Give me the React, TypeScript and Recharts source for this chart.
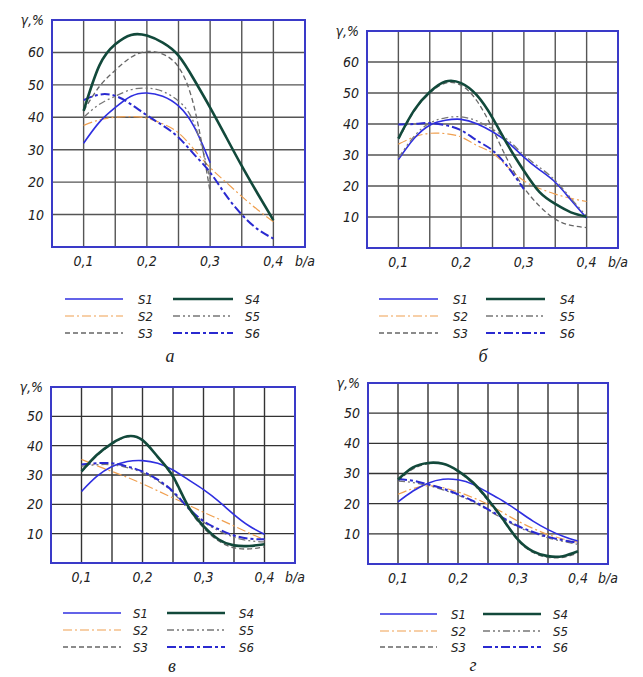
import { CartesianGrid, Line, LineChart, ReferenceArea, XAxis, YAxis } from 'recharts';

// b/a sample points shared by every panel
const B_A = [0.1, 0.125, 0.15, 0.175, 0.2, 0.225, 0.25, 0.275, 0.3, 0.325, 0.35, 0.375, 0.4];

const X_TICKS = [0.05, 0.1, 0.15, 0.2, 0.25, 0.3, 0.35, 0.4, 0.45];
const X_LABELS = ['', '0,1', '', '0,2', '', '0,3', '', '0,4', 'b/a'];
const Y_TICKS_70 = [0, 10, 20, 30, 40, 50, 60, 70];
const Y_TICKS_60 = [0, 10, 20, 30, 40, 50, 60];

const SERIES = ['S1', 'S2', 'S3', 'S4', 'S5', 'S6'];

// panel а
const A_S1 = [32, 38.5, 43, 46.5, 47.5, 46.5, 43.5, 37, 26, null, null, null, null];
const A_S2 = [37.5, 39.2, 40, 40.2, 39.7, 38, 35.2, 30, 24.5, 20, 15.6, 11.5, 7.8];
const A_S3 = [42, 49.5, 54.5, 58.5, 60.3, 59.5, 55.5, 43, 17, null, null, null, null];
const A_S4 = [42, 56, 62.5, 65.4, 65.2, 63, 59, 51.5, 43, 34, 25, 16.5, 8.3];
const A_S5 = [40, 44, 46.5, 48.5, 49, 48, 45, 38, 21, null, null, null, null];
const A_S6 = [45.3, 47, 46.6, 44, 40.6, 37.5, 33.8, 28.5, 23, 16, 10, 5.5, 2.6];

// panel б
const B_S1 = [28.5, 35.3, 39.6, 41.2, 41.5, 40.1, 37.5, 34, 29.3, 25.2, 21.2, 15.5, 9.7];
const B_S2 = [33.5, 35.8, 37, 36.9, 35.8, 33.1, 30.6, 26, 21.7, 19.2, 17.4, 16, 15];
const B_S3 = [35, 44, 50, 53.2, 52.5, 47.5, 38.5, 28, 19.5, 13.5, 9.3, 7.3, 6.6];
const B_S4 = [35.3, 44.4, 50.3, 53.7, 53.2, 49.3, 42, 33, 24.9, 18, 14.2, 11.5, 10.1];
const B_S5 = [29, 36, 40.3, 42, 42.3, 41, 38.3, 34.8, 30, 26, 21.8, 16, 10.3];
const B_S6 = [39.8, 40, 40.3, 39.6, 38, 34.7, 31.5, 26, 19, null, null, null, null];

// panel в
const V_S1 = [24.4, 29.5, 32.9, 34.6, 34.9, 34, 31.7, 28.4, 25, 21, 16.5, 12.6, 9.8];
const V_S2 = [35.3, 33.2, 31.2, 29.2, 27, 24.6, 22.2, 19.8, 17.3, 15, 12.6, 10.2, 7.9];
const V_S3 = [31, 36.5, 40.5, 43, 41.8, 36, 29, 19, 12, 7.5, 5.2, 4.8, 5.5];
const V_S4 = [31.2, 36.8, 40.8, 43.2, 41.9, 36.2, 29.5, 19.3, 12.6, 8, 6, 5.8, 6.4];
const V_S5 = [33, 33.5, 33.5, 32.5, 30.8, 28, 24, 18.5, 14, 11, 8.8, 7.6, 7.2];
const V_S6 = [33.6, 34, 34, 32.9, 31.2, 28.4, 24.4, 18.8, 14.3, 11.5, 9.4, 8.3, 8.1];

// panel г
const G_S1 = [20.6, 24.2, 26.8, 28.1, 27.9, 26.4, 23.7, 20.9, 17.6, 14.2, 11.4, 9.2, 7.6];
const G_S2 = [23.1, 25, 25.9, 25.3, 23.9, 22, 19.8, 17, 14.2, 11.8, 9.8, 8.3, 7.2];
const G_S3 = [27.5, 31.5, 33.2, 33.3, 30.6, 26.6, 21, 14.5, 7.8, 3.8, 2.2, 2.2, 3.6];
const G_S4 = [28, 32, 33.5, 33.2, 30.9, 27, 21.4, 14.8, 8.1, 4.2, 2.6, 2.6, 4.2];
const G_S5 = [27.5, 27, 26, 24.6, 22.8, 20.6, 17.8, 15, 12.3, 10.3, 8.7, 7.5, 6.5];
const G_S6 = [28.1, 27.6, 26.4, 25, 23.1, 20.9, 18.1, 15.3, 12.6, 10.6, 9, 7.9, 7];

type Val = number | null;

const toRows = (cols: Val[][]) =>
  B_A.map((x, i) => {
    const row: Record<string, Val> = { x };
    cols.forEach((c, k) => (row['s' + (k + 1)] = c[i]));
    return row;
  });

const STYLES: Record<string, { stroke: string; width: number; dash?: string }> = {
  s1: { stroke: '#2f2fe0', width: 1.6 },
  s2: { stroke: '#f0a050', width: 1.2, dash: '9 3 2 3' },
  s3: { stroke: '#666666', width: 1.3, dash: '5 3' },
  s4: { stroke: '#12493b', width: 2.6 },
  s5: { stroke: '#777777', width: 1.3, dash: '7 3 2 3 2 3' },
  s6: { stroke: '#2a2ad0', width: 2, dash: '9 3 3 3' },
};
const DRAW_ORDER = ['s2', 's1', 's5', 's3', 's6', 's4'];

const FONT = "'DejaVu Sans Condensed', 'DejaVu Sans', sans-serif";
const tickStyle = { fill: '#222', fontSize: 14, fontStyle: 'italic', fontFamily: FONT };
const FRAME = '#3a3ac8';

type Box = { l: number; t: number; r: number; b: number };

function Panel({ box, yTicks, rows, grid }: { box: Box; yTicks: number[]; rows: Record<string, Val>[]; grid: string }) {
  const yMax = yTicks[yTicks.length - 1];
  const w = box.r - box.l + 75;
  const h = box.b - box.t + 50;
  return (
    <div style={{ position: 'absolute', left: box.l - 45, top: box.t - 20 }}>
      <LineChart width={w} height={h} data={rows} margin={{ top: 20, right: 30, bottom: 0, left: 5 }}>
        <CartesianGrid stroke={grid} strokeWidth={1.4} />
        <XAxis
          type="number"
          dataKey="x"
          domain={[0.05, 0.45]}
          ticks={X_TICKS}
          interval={0}
          allowDataOverflow
          height={30}
          axisLine={false}
          tickLine={false}
          tickSize={0}
          tickMargin={9}
          tick={tickStyle}
          tickFormatter={(v: number) => X_LABELS[X_TICKS.findIndex((t) => Math.abs(t - v) < 1e-6)] ?? ''}
        />
        <YAxis
          type="number"
          domain={[0, yMax]}
          ticks={yTicks}
          interval={0}
          allowDataOverflow
          width={40}
          axisLine={false}
          tickLine={false}
          tickSize={0}
          tickMargin={8}
          tick={tickStyle}
          tickFormatter={(v: number) => (v === yMax ? 'γ,%' : v === 0 ? '' : String(v))}
        />
        <ReferenceArea x1={0.05} x2={0.45} y1={0} y2={yMax} fill="none" stroke={FRAME} strokeWidth={2} />
        {DRAW_ORDER.map((k) => (
          <Line
            key={k}
            type="natural"
            dataKey={k}
            stroke={STYLES[k].stroke}
            strokeWidth={STYLES[k].width}
            strokeDasharray={STYLES[k].dash}
            dot={false}
            activeDot={false}
            isAnimationActive={false}
          />
        ))}
      </LineChart>
    </div>
  );
}

type LegendSpec = { l1: [number, number]; t1: number; l2: [number, number]; t2: number; rows: number[]; cap: string; cx: number; cy: number };

const LEGENDS: LegendSpec[] = [
  { l1: [65, 123], t1: 138, l2: [173, 233], t2: 245, rows: [299, 316, 333], cap: 'а', cx: 170, cy: 356 },
  { l1: [379, 438], t1: 453, l2: [486, 545], t2: 560, rows: [299, 316, 333], cap: 'б', cx: 483, cy: 356 },
  { l1: [63, 121], t1: 133, l2: [167, 225], t2: 239, rows: [613, 630, 647], cap: 'в', cx: 172, cy: 666 },
  { l1: [380, 437], t1: 451, l2: [483, 541], t2: 553, rows: [614, 631, 647], cap: 'г', cx: 473, cy: 665 },
];

function Legends() {
  return (
    <svg width={643} height={677} style={{ position: 'absolute', left: 0, top: 0 }}>
      {LEGENDS.map((lg, i) => (
        <g key={i}>
          {SERIES.map((name, j) => {
            const col = j < 3 ? 0 : 1;
            const y = lg.rows[j % 3];
            const [a, b] = col === 0 ? lg.l1 : lg.l2;
            const tx = col === 0 ? lg.t1 : lg.t2;
            const st = STYLES['s' + (j + 1)];
            return (
              <g key={name}>
                <line x1={a} x2={b} y1={y} y2={y} stroke={st.stroke} strokeWidth={st.width} strokeDasharray={st.dash} />
                <text x={tx} y={y} dominantBaseline="central" fontSize={13} fontStyle="italic" fontFamily={FONT} fill="#222">
                  {name}
                </text>
              </g>
            );
          })}
          <text x={lg.cx} y={lg.cy} textAnchor="middle" dominantBaseline="central" fontSize={18} fontStyle="italic" fontFamily="'Liberation Serif', serif" fill="#222">
            {lg.cap}
          </text>
        </g>
      ))}
    </svg>
  );
}

export default function App() {
  return (
    <div style={{ position: 'absolute', left: 0, top: 0, width: 643, height: 677, background: '#fff' }}>
      <Legends />
      <Panel box={{ l: 52, t: 20, r: 305, b: 247 }} yTicks={Y_TICKS_70} grid="#555" rows={toRows([A_S1, A_S2, A_S3, A_S4, A_S5, A_S6])} />
      <Panel box={{ l: 367, t: 31, r: 618, b: 248 }} yTicks={Y_TICKS_70} grid="#555" rows={toRows([B_S1, B_S2, B_S3, B_S4, B_S5, B_S6])} />
      <Panel box={{ l: 51, t: 387, r: 295, b: 563 }} yTicks={Y_TICKS_60} grid="#333" rows={toRows([V_S1, V_S2, V_S3, V_S4, V_S5, V_S6])} />
      <Panel box={{ l: 368, t: 383, r: 608, b: 564 }} yTicks={Y_TICKS_60} grid="#333" rows={toRows([G_S1, G_S2, G_S3, G_S4, G_S5, G_S6])} />
    </div>
  );
}
